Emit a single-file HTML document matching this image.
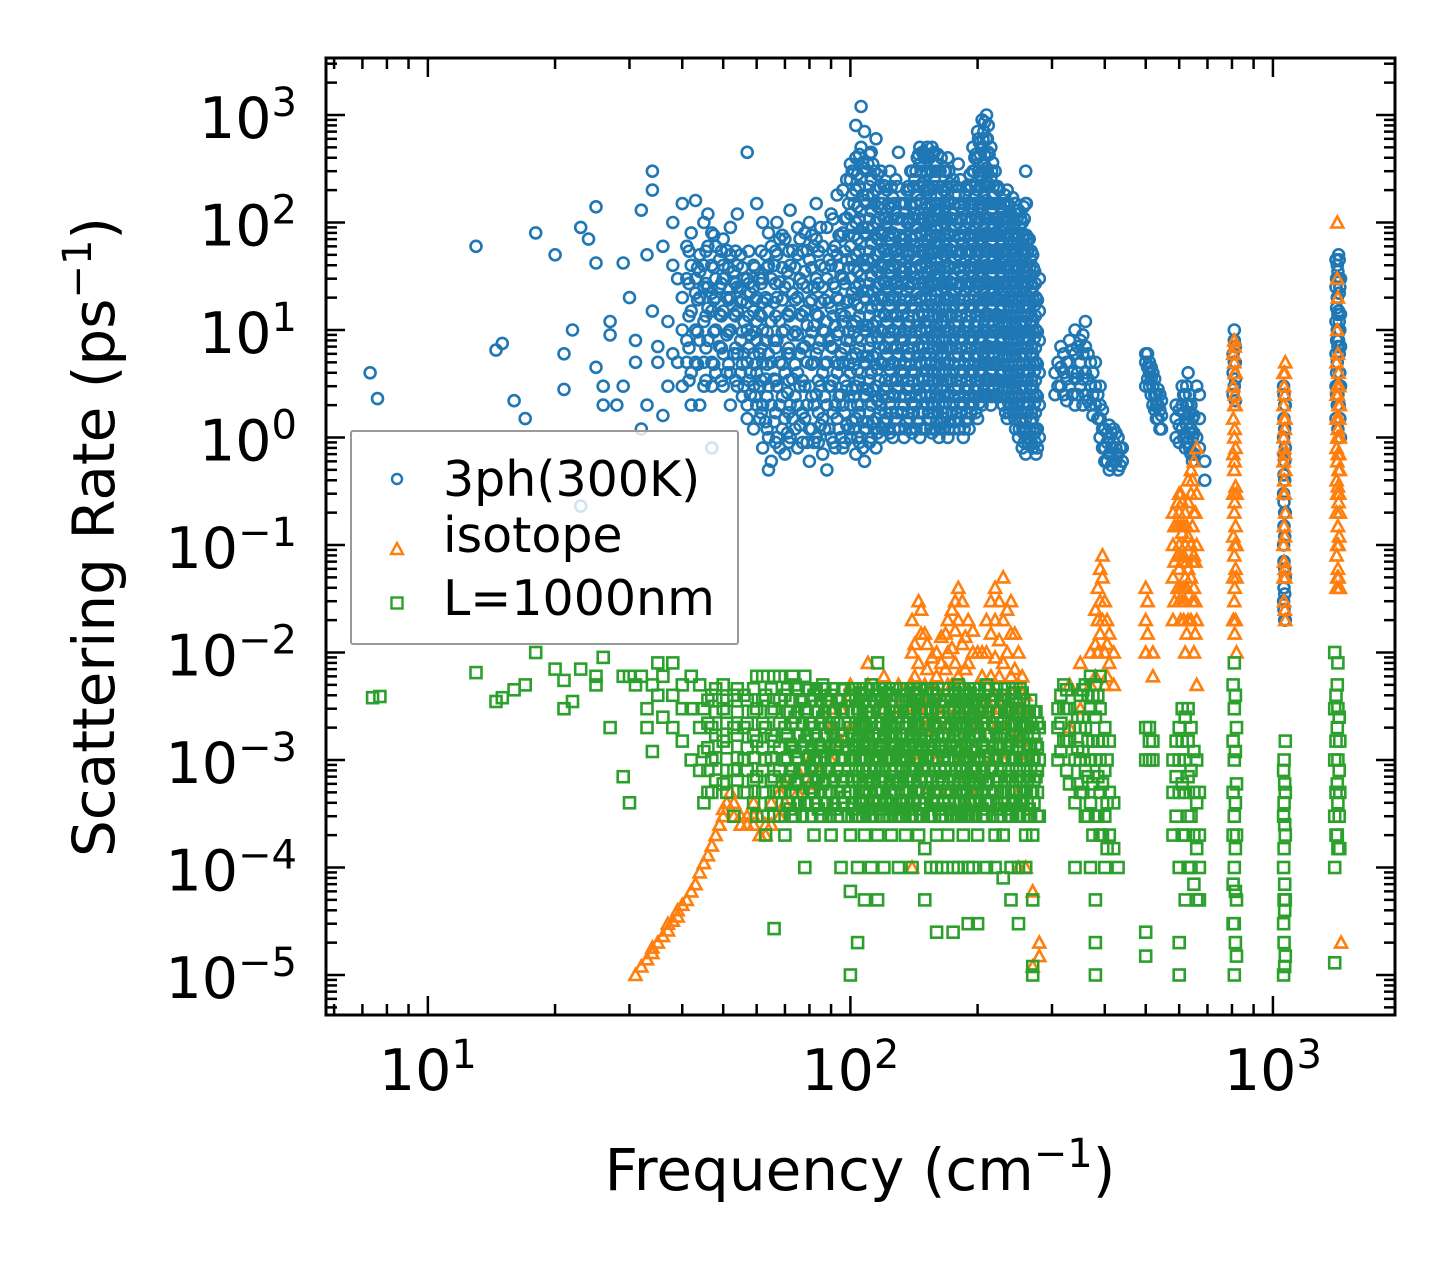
<!DOCTYPE html>
<html><head><meta charset="utf-8"><style>
html,body{margin:0;padding:0;background:#fff;}
svg{display:block;font-family:"DejaVu Sans","Liberation Sans",sans-serif;}
</style></head><body>
<svg id="chart" width="1455" height="1265" viewBox="0 0 1455 1265" xmlns="http://www.w3.org/2000/svg">
<rect width="1455" height="1265" fill="#fff"/>
<defs><clipPath id="plotclip"><rect x="326" y="58" width="1069" height="957"/></clipPath></defs>
<g id="series" clip-path="url(#plotclip)"></g>
<g id="axes"></g>
<g>
<rect x="351" y="431" width="387" height="213" fill="#fff" fill-opacity="0.8" stroke="#999" stroke-width="2" rx="2"/>
<circle cx="397" cy="479" r="5" fill="none" stroke="#1f77b4" stroke-width="2.4"/>
<text x="443" y="496" font-size="49">3ph(300K)</text>
<path d="M397,543 L403,554 L391,554 Z" fill="none" stroke="#ff7f0e" stroke-width="2.4"/>
<text x="443" y="552" font-size="49">isotope</text>
<rect x="391.5" y="597.5" width="11" height="11" fill="none" stroke="#2ca02c" stroke-width="2.4"/>
<text x="443" y="615" font-size="49">L=1000nm</text>
</g>
<text x="860" y="1190" font-size="58" text-anchor="middle">Frequency (cm<tspan font-size="40" dy="-23">−1</tspan><tspan dy="23">)</tspan></text>
<text transform="translate(114,537) rotate(-90)" font-size="58" text-anchor="middle">Scattering Rate (ps<tspan font-size="40" dy="-23">−1</tspan><tspan dy="23">)</tspan></text>
</svg>
<script>
// each row: [frequency, rate, rate, ...]
const data3ph = [
[7.3,4],[7.6,2.3],[13,60],[14.5,6.5],[15,7.5],[16,2.2],[17,1.5],[18,80],[20,50],[21,2.8,6],[22,10],[23,0.23,90],[24,70],[25,4.5,42,140],[26,3,2],[27,12,9],[28,2],[29,3,42],[30,20],[31,5,8],[32,1.2,130],[33,50,2],[34,15,200,300],[35,7,5],[36,1.6,60],[37,12,3],[38,100,40,6],[39,5,30],[40,20,150,10,3],[41,30,8,5,60],[42,80,15,40,4,2],[43,160,30,10,5,22],[44,2,20,50,8,35],[45,40,100,12,5,3,25],[46,120,25,60,8,16],[47,0.8,40,15,5,3,80,22],[48,60,30,10,4,20],[49,45,25,14,7],[50,30,70,15,6,3,40],[51,55,20,9,4],[52,20,50,10,4,2,90],[53,35,14,6,28],[54,40,15,6,3,120,25],[55,50,25,8,4,18],[56,30,12,6,3],[57,450,30,10,5,2,1.5,18],[58,22,9,4,2.5],[59,40,15,6,3,1.2,25],[60,150,20,8,4,2,12],[61,30,14,6,3,1.5],[62,100,30,10,5,2,0.8,18],[63,50,20,8,3.5,1.4],[64,80,40,15,6,3,1,0.5],[65,0.6,2,5,12,30,60],[66,1.4,3.5,8,18,40],[67,1,3,8,20,50,100],[68,0.8,2,5,12,28,70],[70,0.7,1.5,4,10,25,70],[71,1.1,2.6,6,14,35],[72,1,2,6,15,40,130],[73,1.5,3.5,9,22,55],[75,0.8,2,4,9,20,50,90],[76,1.3,3,6,14,30,70],[78,1.5,3,7,15,35,80],[79,0.9,2,5,11,25,55],[80,0.6,1.2,3,8,18,45,100],[82,0.9,2,5,11,25,60],[83,1,2.5,6,14,30,70,150],[85,1.3,3,8,18,40,90],[86,0.7,1.5,4,10,25,60],[88,0.5,2,5,12,30,90],[89,1.2,3,8,18,45],[90,1,3,7,16,40,120],[92,0.8,2,5,11,25,60],[93,1.5,4,9,20,50,180],[95,1,2.5,6,14,32,75],[96,0.8,2,5,12,30,80,200],[98,1.3,3,8,18,45,110,250],
[100,1,2,4,8,15,30,60,120,250,350],[101,1.4,2.8,5.5,11,22,45,90,180,300],[103,0.7,1.5,3,6,12,25,50,100,200,400,800],[104,1,2,4.2,8.5,17,35,70,140,280],[106,1,2,4,8,16,32,64,128,256,500,1200],[107,0.8,1.4,2.9,5.7,11,23,45,90,180,360],[108,0.6,1.2,2.5,5,10,20,40,80,160,320,700],[110,1.4,2.8,5.7,11,23,45,90,180,350],[112,1,2,4,8,16,32,64,128,250,450],[113,1.4,2.8,5.7,11,23,45,90,180,350],[115,0.8,1.5,3,6,12,25,50,100,200,600],[116,1.1,2.2,4.3,8.5,17,35,70,140,280],[118,1,2,5,10,20,40,80,150,300],[120,1.4,2.8,7,14,28,56,110,220],[122,1.5,3,6,12,25,50,100,200],[124,1.1,2.1,4.3,8.5,17,35,70,140,300],[126,1,2.5,5,10,20,40,80,170],[128,1.5,3.5,7,14,28,56,120,250],[130,1.2,3,6,12,25,50,110,450],[132,1.7,4.2,8.5,17,35,70,150],[134,1,2,4,8,16,35,70,150],[136,1.4,2.8,5.7,11,23,50,100,200],[138,1.5,3,6,12,25,50,100,200],[140,1.1,2.1,4.2,8.5,17,35,70,140,300],[142,2,4,8,16,30,60,120,250],[144,1.4,2.8,5.7,11,22,45,90,180,400],[146,1,2.5,5,10,20,40,80,160,350,500],[148,1.7,3.5,7,14,28,56,110,230,450],[150,1.2,3,6,12,25,50,100,200,400],[152,2,4.2,8.5,17,35,70,140,280,500],[154,1.5,3,6,12,25,50,100,200,400],[156,1.1,2.1,4.2,8.5,17,35,70,140,300,500],[158,2,4,8,16,32,64,128,250,450],[160,1.4,2.8,5.7,11,23,45,90,180,350],[162,1,2,4,8,16,32,64,128,300],[164,1.4,2.8,5.7,11,23,45,90,180,400],[166,1.5,3,6,12,25,50,100,200],[168,2.1,4.2,8.5,17,35,70,140,300],[170,1,2.5,5,10,20,40,80,160,400],[172,1.4,3.5,7,14,28,56,110,230],[175,2,4,8,16,30,60,120,250],[177,1.4,2.8,5.7,11,22,45,90,180],[180,1.5,3,6,12,25,50,100,180,350],[182,2.1,4.2,8.5,17,35,70,140,250],[185,1,2,4,8,16,32,64,130],[187,1.4,2.8,5.7,11,23,45,90,180],[190,1.5,3,6,12,25,50,100,200],[192,2.1,4.2,8.5,17,35,70,140,280],[195,2,4,8,16,32,64,130,300,500],[197,2.8,5.7,11,23,45,90,180,400],[200,1.5,3,6,12,25,50,100,200,400,700],[202,2.1,4.2,8.5,17,35,70,140,280,550],[205,2,4,8,16,32,64,130,260,500,900],[207,2.8,5.7,11,23,45,90,180,360,700],[210,2.5,5,10,20,40,80,160,320,600,1000],[212,3.5,7,14,28,56,110,230,450,800],[215,2,4,8,16,32,64,130,260,500],[217,2.8,5.7,11,23,45,90,180,360],[220,2.5,5,10,20,40,80,150,300],[222,3.5,7,14,28,56,110,210],[225,3,6,12,25,50,100,200],[227,4.2,8.5,17,35,70,140],[230,2,4,8,16,32,64,130],[232,2.8,5.7,11,23,45,90,180],[235,1.5,3,6,12,25,50,100,200],[237,2.1,4.2,8.5,17,35,70,140],[240,2,4,8,16,32,64,120],[242,2.8,5.7,11,23,45,90,170],[245,1.5,3,6,12,25,50,100,150],[247,2.1,4.2,8.5,17,35,70,130],[250,1,2,4,8,16,32,64,130],[252,1.4,2.8,5.7,11,23,45,90],[255,0.8,1.5,3,6,12,25,50,100],[257,1.1,2.1,4.2,8.5,17,35,70,140],[260,0.7,1.5,3,6,12,25,50,150,300],[262,1,2.1,4.2,8.5,17,35,70],[265,1,2,4,8,16,32,70],[267,1.4,2.8,5.7,11,23,45],[270,0.8,1.5,3,6,12,25,50],[273,1.1,2.1,4.2,8.5,17,35],[275,0.7,1.2,2.5,5,10,20],[280,1,2,4,8,15,30],
[310,3,5],[320,2.5,4,6],[330,3,5,8],[340,2,3.5,6,10],[350,3,5,8],[360,2.5,4,7,12],[370,2,3,5],[380,2,3,5],[385,1.5,2.5],[390,1,1.5,2,3],[400,0.6,0.8,1.2],[410,0.5,0.7,1,1.3],[420,0.6,0.9,1.2],[430,0.5,0.7,1],[440,0.6,0.8],[500,5,6,3],[510,3,4,5],[520,2,3,4],[530,2,2.5,1.5],[540,1.2,1.8,2.5],[590,1,1.5,2],[610,1.2,2,3],[620,0.8,1.5,2.5],[630,0.9,1.5,2,4],[640,0.7,1.2,2],[660,1,3],[690,0.6,0.4],[810,3,5,8,10],[1060,0.03,0.1,0.3,1,3],[1070,0.02,0.05,0.2,0.8,2],[1420,2,5,10,20,40],[1430,3,8,15,30,50],[1440,1.5,4,10,25]
];
const data3phFill = [
[41.5,3.4,6.8,13.5,27,54],[43.5,4.8,9.6,19,38],[45.5,3.4,6.8,13.5,27,54],[47.5,4.8,9.6,19,38,76],[49.5,3.4,6.8,13.5,27,54],[51.5,4.8,9.6,19,38],[53.5,3.4,6.8,13.5,27,54],[55.5,2.4,4.8,9.6,19,38],[57.5,3.4,6.8,13.5,27,54],[59.5,2.4,4.8,9.6,19,38],[61.5,1.7,3.4,6.8,13.5,27,54],[63.5,1.2,2.4,4.8,9.6,19,38],
[66.5,0.9,1.7,3.4,6.8,13.5,27,54],[69,1.2,2.4,4.8,9.6,19,38,76],[71.5,0.9,1.7,3.4,6.8,13.5,27,54],[74,1.2,2.4,4.8,9.6,19,38],[77,0.9,1.7,3.4,6.8,13.5,27,54],[81,1.2,2.4,4.8,9.6,19,38,76],[84,0.9,1.7,3.4,6.8,13.5,27,54],[87,1.2,2.4,4.8,9.6,19,38],[91,0.9,1.7,3.4,6.8,13.5,27,54,108],[94,1.2,2.4,4.8,9.6,19,38,76],[97,0.9,1.7,3.4,6.8,13.5,27,54,108],[99,1.2,2.4,4.8,9.6,19,38,76,150],
[102,1.2,2.4,4.8,9.6,19,38,76,150,300],[105,0.9,1.7,3.4,6.8,13.5,27,54,108,216,430],[109,1.2,2.4,4.8,9.6,19,38,76,150,300],[111,0.9,1.7,3.4,6.8,13.5,27,54,108,216,430],[114,1.2,2.4,4.8,9.6,19,38,76,150,300],[117,1.7,3.4,6.8,13.5,27,54,108,216],[119,1.2,2.4,4.8,9.6,19,38,76,150],[121,1.7,3.4,6.8,13.5,27,54,108,216],[123,1.2,2.4,4.8,9.6,19,38,76,150],[125,1.7,3.4,6.8,13.5,27,54,108,216],[127,1.2,2.4,4.8,9.6,19,38,76,150],[129,1.7,3.4,6.8,13.5,27,54,108,216],[131,1.2,2.4,4.8,9.6,19,38,76,150],[133,1.7,3.4,6.8,13.5,27,54,108],[135,1.2,2.4,4.8,9.6,19,38,76,150],[137,1.7,3.4,6.8,13.5,27,54,108,216],[139,1.2,2.4,4.8,9.6,19,38,76,150,300],[141,1.7,3.4,6.8,13.5,27,54,108,216],[143,1.2,2.4,4.8,9.6,19,38,76,150,300],[145,1.7,3.4,6.8,13.5,27,54,108,216,430],[147,1.2,2.4,4.8,9.6,19,38,76,150,300],[149,1.7,3.4,6.8,13.5,27,54,108,216,430],[151,1.2,2.4,4.8,9.6,19,38,76,150,300],[153,1.7,3.4,6.8,13.5,27,54,108,216,430],[155,1.2,2.4,4.8,9.6,19,38,76,150,300],[157,1.7,3.4,6.8,13.5,27,54,108,216,430],[159,1.2,2.4,4.8,9.6,19,38,76,150,300],[161,1.7,3.4,6.8,13.5,27,54,108,216,430],[163,1.2,2.4,4.8,9.6,19,38,76,150,300],[165,1.7,3.4,6.8,13.5,27,54,108,216],[167,1.2,2.4,4.8,9.6,19,38,76,150,300],[169,1.7,3.4,6.8,13.5,27,54,108,216],[171,1.2,2.4,4.8,9.6,19,38,76,150,300],[174,1.7,3.4,6.8,13.5,27,54,108,216],[176,1.2,2.4,4.8,9.6,19,38,76,150],[178,1.7,3.4,6.8,13.5,27,54,108,216],[181,1.2,2.4,4.8,9.6,19,38,76,150],[183,1.7,3.4,6.8,13.5,27,54,108],[186,1.2,2.4,4.8,9.6,19,38,76,150],[188,1.7,3.4,6.8,13.5,27,54,108,216],[191,1.2,2.4,4.8,9.6,19,38,76,150],[193,1.7,3.4,6.8,13.5,27,54,108,216],[196,2.4,4.8,9.6,19,38,76,150,300],[198,1.7,3.4,6.8,13.5,27,54,108,216,430],
[201,2.4,4.8,9.6,19,38,76,150,300,600],[203,3.4,6.8,13.5,27,54,108,216,430],[206,2.4,4.8,9.6,19,38,76,150,300,600],[208,3.4,6.8,13.5,27,54,108,216,430,860],[211,2.4,4.8,9.6,19,38,76,150,300,600],[213,3.4,6.8,13.5,27,54,108,216,430],[216,2.4,4.8,9.6,19,38,76,150,300],[218,3.4,6.8,13.5,27,54,108,216],
[221,2.4,4.8,9.6,19,38,76,150],[223,3.4,6.8,13.5,27,54,108,216],[226,2.4,4.8,9.6,19,38,76,150],[228,3.4,6.8,13.5,27,54,108],[231,2.4,4.8,9.6,19,38,76,150],[233,1.7,3.4,6.8,13.5,27,54,108],[236,2.4,4.8,9.6,19,38,76,150],[238,1.7,3.4,6.8,13.5,27,54,108],[241,2.4,4.8,9.6,19,38,76],[243,1.7,3.4,6.8,13.5,27,54,108],[246,1.2,2.4,4.8,9.6,19,38,76,150],[248,1.7,3.4,6.8,13.5,27,54,108],[251,1.2,2.4,4.8,9.6,19,38,76],[253,1.7,3.4,6.8,13.5,27,54,108],[256,1.2,2.4,4.8,9.6,19,38,76],[258,0.9,1.7,3.4,6.8,13.5,27,54,108],[261,1.2,2.4,4.8,9.6,19,38,76,150],[263,0.9,1.7,3.4,6.8,13.5,27,54],[266,1.2,2.4,4.8,9.6,19,38],[268,0.9,1.7,3.4,6.8,13.5,27,54],[271,1.2,2.4,4.8,9.6,19,38],[274,0.9,1.7,3.4,6.8,13.5,27],[277,0.8,1.2,2.4,4.8,9.6,19],
[305,2.5,4],[315,3,4.5,7],[325,2.2,3.5,5],[335,2.5,4,6.5],[345,2.5,4,7],[355,2,3.5,6,9],[365,2.2,3.5,6],[375,1.6,2.5,4],[395,0.8,1.2,1.8],[405,0.6,0.9,1.1],[415,0.55,0.8,1.1],[425,0.6,0.8,1.1],[435,0.55,0.8],
[505,3.5,4.5,6],[515,2.5,3.5,4.5],[525,1.8,2.5,3.5],[535,1.5,2,2.8],[545,1.2,1.6,2.2],[600,0.9,1.3,1.8],[615,1,1.7,2.5],[625,0.9,1.3,2,3],[635,0.8,1.1,1.7,2.5],[645,0.6,1,1.5],[650,0.7,1.1,1.6],[670,0.8,1.5,2.5],
[805,2.5,4,6],[815,2.2,3.5,5,7],[1062,0.025,0.04,0.07,0.15,0.25,0.45,0.7,1.5,2.5],[1066,0.02,0.035,0.06,0.12,0.2,0.4,0.6,1.2,2],[1410,1.5,3,6,12,25,45],[1415,2.5,4,8,16,30],[1425,1.2,2.5,7,14,35],[1435,2,6,12,22,45],[1445,1,3,7,14,30]
];
const dataIsotope = [
[31,1e-5],[32,1.2e-5],[33,1.4e-5],[34,1.6e-5,1.8e-5],[35,2e-5],[36,2.3e-5],[37,2.6e-5,3e-5],[38,3.2e-5],[39,3.5e-5,4e-5],[40,4.5e-5],[41,5e-5],[42,6e-5],[43,7e-5],[44,9e-5],[45,1.1e-4],[46,1.3e-4],[47,1.6e-4],[48,2e-4],[49,2.5e-4],[50,3e-4,3.5e-4],[51,4e-4],[52,5e-4],[53,4e-4,3e-4],[55,3e-4,2.5e-4],[57,2.5e-4,3e-4],[59,2.5e-4,3e-4,4e-4],[61,2e-4,3e-4],[63,2e-4,2.5e-4],[65,2.5e-4,4e-4],[68,3e-4,5e-4],[70,4e-4,6e-4],[75,5e-4,8e-4],[80,6e-4,1e-3],[85,8e-4,1.5e-3],[90,1e-3,2e-3,3e-3],[95,1.5e-3,3e-3],[100,2e-3,4e-3,5e-3],[110,2e-3,5e-3,8e-3],[120,3e-3,6e-3],[130,3e-3,5e-3],[140,1e-4,5e-4,2e-3,5e-3,1e-2,2e-2],[145,1e-3,3e-3,8e-3,3e-2],[150,5e-4,2e-3,5e-3,1.5e-2],[160,1e-3,3e-3,6e-3,1e-2],[170,5e-4,2e-3,5e-3,1e-2,2e-2],[180,1e-3,3e-3,6e-3,2e-2,4e-2],[190,1e-3,3e-3,8e-3,2e-2],[200,5e-4,2e-3,5e-3,1e-2],[215,1e-3,3e-3,6e-3,1.5e-2,3e-2],[230,1e-3,3e-3,8e-3,2e-2,5e-2],[250,1e-4,5e-4,2e-3,5e-3,1e-2],[260,1e-4,1e-3,4e-3],[270,1.2e-5,6e-5],[280,1.5e-5,2e-5],[330,2e-3,5e-3],[350,3e-3,8e-3],[370,5e-3,1e-2],[385,1e-2,2e-2,4e-2],[395,2e-2,5e-2,8e-2],[400,5e-3,1e-2,3e-2],[410,8e-3,1.5e-2],[420,5e-3,1e-2],[500,1e-2,2e-2,4e-2],[520,6e-3,1e-2],[580,2e-2,5e-2,1e-1,2e-1],[600,3e-2,6e-2,1e-1,2e-1,3e-1],[620,1e-2,3e-2,5e-2,1e-1,2e-1],[640,2e-2,5e-2,1e-1,3e-1,5e-1],[660,5e-3,2e-2,1e-1,3e-1,8e-1],[810,3e-2,8e-2,2e-1,5e-1,1,2,5,8],[820,1e-2,5e-2,1e-1,3e-1],[1060,0.05,0.1,0.3,0.6,1,2,4],[1070,0.02,0.05,0.2,0.5,1.5,5],[1420,0.05,0.1,0.3,0.6,1,3,10,30,100],[1440,0.04,0.2,1,2,0.5],[1450,2e-5]
];
const dataIsotopeFill = [
[142,3e-3,6e-3,1.2e-2],[147,2e-3,4e-3,1.5e-2,2.5e-2],[152,3e-3,7e-3,1.2e-2],[156,2.5e-3,5e-3,9e-3],[164,2e-3,4e-3,8e-3,1.4e-2],[168,3e-3,7e-3,1.5e-2],[174,2.5e-3,5e-3,1.1e-2,2.5e-2],[177,3.5e-3,8e-3,1.6e-2,3e-2],[184,2.5e-3,5e-3,1.2e-2,3e-2],[187,3.5e-3,7e-3,1.4e-2],[195,2e-3,4e-3,1e-2,1.6e-2],[205,3e-3,6e-3,1e-2],[210,2.5e-3,5e-3,1e-2,2e-2],[220,2e-3,4e-3,9e-3,2e-2,4e-2],[225,3e-3,6e-3,1.3e-2,3e-2],[235,2e-3,4e-3,1e-2,2.5e-2],[240,2.5e-3,6e-3,1.5e-2,3e-2],[245,3e-3,7e-3,1.5e-2],[255,1.5e-3,3e-3,6e-3],
[380,6e-3,1.2e-2,2.5e-2],[390,1.5e-2,3e-2,6e-2],[405,6e-3,1.2e-2,2e-2],[505,1.5e-2,3e-2],[585,3e-2,7e-2,1.5e-1],[595,4e-2,8e-2,1.5e-1,2.5e-1],[605,2e-2,4e-2,8e-2,1.5e-1,3e-1],[610,3e-2,7e-2,1.3e-1,2.5e-1],[615,2e-2,4e-2,8e-2,1.5e-1],[625,1.5e-2,4e-2,7e-2,1.5e-1],[630,2e-2,6e-2,1.2e-1,2.5e-1,4e-1],[645,3e-2,7e-2,1.5e-1,4e-1],[650,1e-2,4e-2,8e-2,2e-1,6e-1],[655,1.5e-2,3e-2,7e-2,2e-1],
[806,0.02,0.05,0.12,0.3,0.7,1.5,3,6],[812,0.015,0.04,0.1,0.25,0.6,1.2,2.5,4,7],[816,0.02,0.06,0.15,0.35,0.8,2,4],[1063,0.03,0.07,0.15,0.4,0.8,1.5,3],[1067,0.025,0.06,0.12,0.3,0.7,1.2,2.5,4],[1415,0.04,0.08,0.2,0.4,0.8,1.5,2.5,5],[1425,0.06,0.15,0.35,0.7,1.2,2.5,6,20],[1430,0.05,0.1,0.25,0.5,1,2,4],[1435,0.04,0.12,0.3,0.7,1.5,3]
];
const dataBoundary = [
[7.4,3.8e-3],[7.7,3.9e-3],[13,6.5e-3],[14.5,3.5e-3],[15,3.8e-3],[16,4.5e-3],[17,5e-3],[18,1e-2],[20,7e-3],[21,5.5e-3,3e-3],[22,3.5e-3],[23,7e-3],[25,6e-3,5e-3],[26,9e-3],[27,2e-3],[29,7e-4,6e-3],[30,4e-4,6e-3],[31,5e-3],[32,6e-3],[33,3e-3,2e-3],[34,1.2e-3,5e-3],[35,8e-3,4e-3],[36,2.5e-3,6e-3],[38,8e-3,4e-3,2e-3],[40,5e-3,3e-3,1.5e-3],[42,6e-3,3e-3,1e-3],[44,8e-4,2e-3,5e-3],[45,4e-4,1.2e-3,3e-3],[47,5e-4,1e-3,2e-3,4e-3],[50,6e-4,1.5e-3,3e-3,5e-3],[53,3e-4,8e-4,2e-3,4e-3],[56,5e-4,1e-3,2e-3,4e-3],[60,3e-4,7e-4,1.5e-3,3e-3,6e-3],[63,2e-4,5e-4,1e-3,2e-3,4e-3],[66,2.7e-5,3e-4,7e-4,1.5e-3,3e-3,6e-3],[70,2e-4,5e-4,1e-3,2e-3,4e-3],[72,3.5e-4,7e-4,1.4e-3,2.8e-3],[74,3e-4,6e-4,1.2e-3,2.5e-3,5e-3],[76,4e-4,8e-4,1.7e-3,3.5e-3],[78,1e-4,4e-4,8e-4,1.5e-3,3e-3,6e-3],[80,5.5e-4,1.1e-3,2.2e-3,4.5e-3],[82,2e-4,5e-4,1e-3,2e-3,4e-3],[84,3.5e-4,7e-4,1.4e-3,2.8e-3],[86,3e-4,6e-4,1.2e-3,2.5e-3,5e-3],[88,4e-4,8e-4,1.7e-3,3.5e-3],[90,2e-4,5e-4,1e-3,2e-3,4e-3],[92,3.5e-4,7e-4,1.4e-3,2.8e-3],[95,1e-4,3e-4,7e-4,1.5e-3,3e-3],[97,4.5e-4,1e-3,2.2e-3,4.5e-3],[100,1e-5,6e-5,2e-4,5e-4,1e-3,2e-3,4e-3],[102,3.5e-4,7e-4,1.4e-3,2.8e-3],[104,2e-5,1e-4,3e-4,7e-4,1.5e-3,3e-3],[106,4.2e-4,1e-3,2.1e-3,4.2e-3],[108,5e-5,2e-4,5e-4,1e-3,2e-3,4e-3],[110,3.5e-4,7e-4,1.4e-3,2.8e-3],[112,1e-4,3e-4,6e-4,1.2e-3,2.5e-3,5e-3],[114,4.2e-4,8.5e-4,1.7e-3,3.5e-3],[116,5e-5,2e-4,5e-4,1e-3,2e-3,4e-3,8e-3],[118,3.5e-4,7e-4,1.4e-3,2.8e-3],[120,1e-4,3e-4,7e-4,1.5e-3,3e-3],[122,4.2e-4,1e-3,2.1e-3,4.2e-3],[125,2e-4,5e-4,1e-3,2e-3,4e-3],[127,3.5e-4,7e-4,1.4e-3,2.8e-3],[130,1e-4,3e-4,6e-4,1.2e-3,2.5e-3],[132,4.2e-4,8.5e-4,1.7e-3,3.5e-3],[135,2e-4,5e-4,1e-3,2e-3,4e-3],[137,3.5e-4,7e-4,1.4e-3,2.8e-3],[140,1e-4,3e-4,7e-4,1.5e-3,3e-3],[142,4.2e-4,1e-3,2.1e-3,4.2e-3],[145,2e-4,5e-4,1e-3,2e-3,4e-3],[147,3.5e-4,7e-4,1.4e-3,2.8e-3],[150,5e-5,1.5e-4,4e-4,8e-4,1.5e-3,3e-3],[152,5.5e-4,1.1e-3,2.2e-3,4.5e-3],[155,1e-4,3e-4,7e-4,1.5e-3,3e-3],[157,4.2e-4,1e-3,2.1e-3,4.2e-3],[160,2.5e-5,1e-4,2e-4,5e-4,1e-3,2e-3,4e-3],[162,3.5e-4,7e-4,1.4e-3,2.8e-3],[165,1e-4,3e-4,6e-4,1.2e-3,2.5e-3],[167,4.2e-4,8.5e-4,1.7e-3,3.5e-3],[170,2e-4,5e-4,1e-3,2e-3,4e-3],[172,3.5e-4,7e-4,1.4e-3,2.8e-3],[175,2.5e-5,1e-4,3e-4,7e-4,1.5e-3,3e-3],[177,4.2e-4,1e-3,2.1e-3,4.2e-3],[180,1e-4,3e-4,6e-4,1.2e-3,2.5e-3,5e-3],[182,4.2e-4,8.5e-4,1.7e-3,3.5e-3],[185,2e-4,5e-4,1e-3,2e-3,4e-3],[187,3.5e-4,7e-4,1.4e-3,2.8e-3],[190,3e-5,1e-4,3e-4,7e-4,1.5e-3,3e-3],[192,4.2e-4,1e-3,2.1e-3,4.2e-3],[195,1e-4,3e-4,6e-4,1.2e-3,2.5e-3],[197,4.2e-4,8.5e-4,1.7e-3,3.5e-3],[200,3e-5,2e-4,5e-4,1e-3,2e-3,4e-3],[205,3.5e-4,7e-4,1.4e-3,2.8e-3],[210,1e-4,3e-4,6e-4,1.2e-3,2.5e-3,5e-3],[215,4.2e-4,8.5e-4,1.7e-3,3.5e-3],[220,1e-4,2e-4,5e-4,1e-3,2e-3,4e-3],[225,3.5e-4,7e-4,1.4e-3,2.8e-3],[230,8e-5,2e-4,5e-4,1e-3,2e-3,4e-3],[235,3.5e-4,7e-4,1.4e-3,2.8e-3],[240,5e-5,1e-4,3e-4,7e-4,1.5e-3,3e-3],[245,4.2e-4,1e-3,2.1e-3,4.2e-3],[250,3e-5,1e-4,3e-4,7e-4,1.5e-3,3e-3],[255,4.2e-4,1e-3,2.1e-3,4.2e-3],[260,1e-4,2e-4,5e-4,1e-3,2e-3],[265,3.5e-4,7e-4,1.4e-3,2.8e-3],[270,1e-5,1.2e-5,5e-5,2e-4,5e-4,1e-3,2e-3],[275,7e-4,1.4e-3,2.8e-3],[280,3e-4,1e-3,2e-3],
[310,1e-3,2e-3,3e-3],[320,1.5e-3,3e-3,5e-3],[330,6e-4,1.5e-3,3e-3],[340,1e-4,4e-4,1e-3,2e-3],[350,5e-4,1e-3,2e-3,4e-3],[360,3e-4,8e-4,2e-3,5e-3],[370,1e-4,4e-4,1e-3,3e-3,6e-3],[380,1e-5,2e-5,5e-5,3e-4,1e-3,2.5e-3,5e-3],[390,2e-4,5e-4,1e-3,3e-3,6e-3],[400,1e-4,3e-4,8e-4,2e-3],[410,2e-4,5e-4,1.5e-3],[420,1.5e-4,4e-4],[430,1e-4],[500,1.5e-5,2.5e-5,1e-3,2e-3],[520,1e-3,1.5e-3],[580,2e-4,5e-4,1e-3],[600,1e-5,2e-5,1e-4,5e-4,1e-3,2e-3],[620,5e-5,2e-4,5e-4,1e-3,2.5e-3],[640,1e-4,3e-4,8e-4,2e-3],[660,5e-5,1.5e-4,4e-4,1e-3],[810,1e-5,3e-5,1e-4,3e-4,1e-3,3e-3,8e-3],[820,1.5e-5,5e-5,2e-4,6e-4,2e-3],[1060,1e-5,3e-5,1e-4,3e-4,8e-4],[1070,1.5e-5,5e-5,2e-4,5e-4,1.5e-3],[1400,1.3e-5,1e-4,3e-4,1e-3,3e-3,1e-2],[1420,2e-4,6e-4,2e-3,5e-3],[1440,1.5e-4,5e-4,1.5e-3]
];
const dataBoundaryFill = [
[46,5e-4,8e-4,1.3e-3,2.2e-3,3.6e-3],[48,6.5e-4,1.05e-3,1.7e-3,2.8e-3,4.6e-3],[51,5e-4,8e-4,1.3e-3,2.2e-3,3.6e-3],[54,6.5e-4,1.05e-3,1.7e-3,2.8e-3,4.6e-3],[57,5e-4,8e-4,1.3e-3,2.2e-3,3.6e-3],[59,4e-4,6.5e-4,1.05e-3,1.7e-3,2.8e-3,4.6e-3],[62,3e-4,5e-4,8e-4,1.3e-3,2.2e-3,3.6e-3,6e-3],[65,4e-4,6.5e-4,1.05e-3,1.7e-3,2.8e-3,4.6e-3],[68,3e-4,5e-4,8e-4,1.3e-3,2.2e-3,3.6e-3,6e-3],[71,4e-4,6.5e-4,1.05e-3,1.7e-3,2.8e-3,4.6e-3],[73,3e-4,5e-4,8e-4,1.3e-3,2.2e-3,3.6e-3,6e-3],[75,4e-4,6.5e-4,1.05e-3,1.7e-3,2.8e-3,4.6e-3],[77,3e-4,5e-4,8e-4,1.3e-3,2.2e-3,3.6e-3],[79,4e-4,6.5e-4,1.05e-3,1.7e-3,2.8e-3,4.6e-3],[81,3e-4,5e-4,8e-4,1.3e-3,2.2e-3,3.6e-3],[83,4e-4,6.5e-4,1.05e-3,1.7e-3,2.8e-3,4.6e-3],[85,3e-4,5e-4,8e-4,1.3e-3,2.2e-3,3.6e-3],[87,4e-4,6.5e-4,1.05e-3,1.7e-3,2.8e-3,4.6e-3],[89,3e-4,5e-4,8e-4,1.3e-3,2.2e-3,3.6e-3],[91,4e-4,6.5e-4,1.05e-3,1.7e-3,2.8e-3,4.6e-3],[93,3e-4,5e-4,8e-4,1.3e-3,2.2e-3,3.6e-3],[96,4e-4,6.5e-4,1.05e-3,1.7e-3,2.8e-3,4.6e-3],[99,3e-4,5e-4,8e-4,1.3e-3,2.2e-3,3.6e-3],[101,4e-4,6.5e-4,1.05e-3,1.7e-3,2.8e-3,4.6e-3],[103,3e-4,5e-4,8e-4,1.3e-3,2.2e-3,3.6e-3],[105,4e-4,6.5e-4,1.05e-3,1.7e-3,2.8e-3,4.6e-3],[107,3e-4,5e-4,8e-4,1.3e-3,2.2e-3,3.6e-3],[109,4e-4,6.5e-4,1.05e-3,1.7e-3,2.8e-3,4.6e-3],[111,3e-4,5e-4,8e-4,1.3e-3,2.2e-3,3.6e-3],[113,4e-4,6.5e-4,1.05e-3,1.7e-3,2.8e-3,4.6e-3],[115,3e-4,5e-4,8e-4,1.3e-3,2.2e-3,3.6e-3],[117,4e-4,6.5e-4,1.05e-3,1.7e-3,2.8e-3,4.6e-3],[119,3e-4,5e-4,8e-4,1.3e-3,2.2e-3,3.6e-3],[121,4e-4,6.5e-4,1.05e-3,1.7e-3,2.8e-3,4.6e-3],[124,3e-4,5e-4,8e-4,1.3e-3,2.2e-3,3.6e-3],[126,4e-4,6.5e-4,1.05e-3,1.7e-3,2.8e-3,4.6e-3],[128,3e-4,5e-4,8e-4,1.3e-3,2.2e-3,3.6e-3],[131,4e-4,6.5e-4,1.05e-3,1.7e-3,2.8e-3,4.6e-3],[133,3e-4,5e-4,8e-4,1.3e-3,2.2e-3,3.6e-3],[136,4e-4,6.5e-4,1.05e-3,1.7e-3,2.8e-3,4.6e-3],[138,3e-4,5e-4,8e-4,1.3e-3,2.2e-3,3.6e-3],[141,4e-4,6.5e-4,1.05e-3,1.7e-3,2.8e-3,4.6e-3],[143,3e-4,5e-4,8e-4,1.3e-3,2.2e-3,3.6e-3],[146,4e-4,6.5e-4,1.05e-3,1.7e-3,2.8e-3,4.6e-3],[148,3e-4,5e-4,8e-4,1.3e-3,2.2e-3,3.6e-3],[151,4e-4,6.5e-4,1.05e-3,1.7e-3,2.8e-3,4.6e-3],[153,3e-4,5e-4,8e-4,1.3e-3,2.2e-3,3.6e-3],[156,4e-4,6.5e-4,1.05e-3,1.7e-3,2.8e-3,4.6e-3],[158,3e-4,5e-4,8e-4,1.3e-3,2.2e-3,3.6e-3],[161,4e-4,6.5e-4,1.05e-3,1.7e-3,2.8e-3,4.6e-3],[163,3e-4,5e-4,8e-4,1.3e-3,2.2e-3,3.6e-3],[166,4e-4,6.5e-4,1.05e-3,1.7e-3,2.8e-3,4.6e-3],[168,3e-4,5e-4,8e-4,1.3e-3,2.2e-3,3.6e-3],[171,4e-4,6.5e-4,1.05e-3,1.7e-3,2.8e-3,4.6e-3],[173,3e-4,5e-4,8e-4,1.3e-3,2.2e-3,3.6e-3],[176,4e-4,6.5e-4,1.05e-3,1.7e-3,2.8e-3,4.6e-3],[178,3e-4,5e-4,8e-4,1.3e-3,2.2e-3,3.6e-3],[181,4e-4,6.5e-4,1.05e-3,1.7e-3,2.8e-3,4.6e-3],[183,3e-4,5e-4,8e-4,1.3e-3,2.2e-3,3.6e-3],[186,4e-4,6.5e-4,1.05e-3,1.7e-3,2.8e-3,4.6e-3],[188,3e-4,5e-4,8e-4,1.3e-3,2.2e-3,3.6e-3],[191,4e-4,6.5e-4,1.05e-3,1.7e-3,2.8e-3,4.6e-3],[193,3e-4,5e-4,8e-4,1.3e-3,2.2e-3,3.6e-3],[196,4e-4,6.5e-4,1.05e-3,1.7e-3,2.8e-3,4.6e-3],[198,3e-4,5e-4,8e-4,1.3e-3,2.2e-3,3.6e-3],[202,4e-4,6.5e-4,1.05e-3,1.7e-3,2.8e-3,4.6e-3],[207,3e-4,5e-4,8e-4,1.3e-3,2.2e-3,3.6e-3],[212,4e-4,6.5e-4,1.05e-3,1.7e-3,2.8e-3,4.6e-3],[217,3e-4,5e-4,8e-4,1.3e-3,2.2e-3,3.6e-3],[222,4e-4,6.5e-4,1.05e-3,1.7e-3,2.8e-3,4.6e-3],[227,3e-4,5e-4,8e-4,1.3e-3,2.2e-3,3.6e-3],[232,4e-4,6.5e-4,1.05e-3,1.7e-3,2.8e-3,4.6e-3],[237,3e-4,5e-4,8e-4,1.3e-3,2.2e-3,3.6e-3],[242,4e-4,6.5e-4,1.05e-3,1.7e-3,2.8e-3,4.6e-3],[247,3e-4,5e-4,8e-4,1.3e-3,2.2e-3,3.6e-3],[252,4e-4,6.5e-4,1.05e-3,1.7e-3,2.8e-3,4.6e-3],[257,3e-4,5e-4,8e-4,1.3e-3,2.2e-3,3.6e-3],[262,4e-4,6.5e-4,1.05e-3,1.7e-3,2.8e-3],[267,3e-4,5e-4,8e-4,1.3e-3,2.2e-3,3.6e-3],[272,4e-4,6.5e-4,1.05e-3,1.7e-3,2.8e-3],[277,3e-4,5e-4,8e-4,1.3e-3,2.2e-3],
[315,1.2e-3,2.2e-3,4e-3],[325,8e-4,1.5e-3,3e-3,4.5e-3],[345,6e-4,1.3e-3,2.5e-3],[355,5e-4,1.2e-3,2.5e-3,4.5e-3],[365,3e-4,7e-4,1.5e-3,4e-3],[375,2e-4,6e-4,1.5e-3,4e-3],[385,3e-4,7e-4,1.5e-3,4e-3],[395,2e-4,6e-4,1.5e-3],[405,1.5e-4,4e-4,1e-3],[510,1e-3,1.5e-3,2e-3],[590,3e-4,7e-4,1.5e-3],[610,2e-4,6e-4,1.5e-3,3e-3],[630,1e-4,3e-4,7e-4,1.5e-3,3e-3],[650,7e-5,2e-4,5e-4,1.2e-3],[670,5e-5,1e-4,2e-4,5e-4],
[805,3e-5,7e-5,2e-4,5e-4,1.5e-3,5e-3],[815,2e-5,6e-5,1.5e-4,4e-4,1.2e-3,4e-3],[1063,2e-5,5e-5,1.5e-4,4e-4,1e-3],[1066,1.2e-5,4e-5,7e-5,2.5e-4,6e-4],[1410,2e-4,5e-4,1.5e-3,4e-3],[1425,1.5e-4,4e-4,1e-3,3e-3,8e-3],[1435,3e-4,8e-4,2.5e-3]
];
const xMajorTicks = [10, 100, 1000];
const xTickLabels = ["1", "2", "3"];
const yMajorTicks = [1e-5,1e-4,1e-3,1e-2,1e-1,1,10,100,1000];
const yTickLabels = ["−5","−4","−3","−2","−1","0","1","2","3"];

const NS = "http://www.w3.org/2000/svg";
const L = 326, R = 1395, T = 58, B = 1015;
const xMin = Math.log10(5.74), xMax = Math.log10(1945);
const yMin = -5.372, yMax = 3.53;
function xs(v){ return L + (Math.log10(v) - xMin) / (xMax - xMin) * (R - L); }
function ys(v){ return B - (Math.log10(v) - yMin) / (yMax - yMin) * (B - T); }
function mk(tag, attrs, parent){ const e = document.createElementNS(NS, tag); for (const k in attrs) e.setAttribute(k, attrs[k]); parent.appendChild(e); return e; }

const series = document.getElementById("series");
const g1 = mk("g", {fill:"none", stroke:"#1f77b4", "stroke-width":"2.6"}, series);


data3ph.concat(data3phFill).forEach(row => { for (let i = 1; i < row.length; i++) {
  const c = mk("circle", {cx: xs(row[0]).toFixed(1), cy: ys(row[i]).toFixed(1), r: 5.5}, g1);
  
  
}});
const g2 = mk("g", {fill:"none", stroke:"#ff7f0e", "stroke-width":"2.6"}, series);


dataIsotope.concat(dataIsotopeFill).forEach(row => { for (let i = 1; i < row.length; i++) {
  const x = xs(row[0]), y = ys(row[i]);
  const p = mk("path", {d: `M${x.toFixed(1)},${(y-6).toFixed(1)} L${(x+6).toFixed(1)},${(y+5).toFixed(1)} L${(x-6).toFixed(1)},${(y+5).toFixed(1)} Z`}, g2);
  
  
}});
const g3 = mk("g", {fill:"none", stroke:"#2ca02c", "stroke-width":"2.6"}, series);


dataBoundary.concat(dataBoundaryFill).forEach(row => { for (let i = 1; i < row.length; i++) {
  const s = mk("rect", {x: (xs(row[0]) - 5.5).toFixed(1), y: (ys(row[i]) - 5.5).toFixed(1), width: 11, height: 11}, g3);
  
  
}});

const axes = document.getElementById("axes");
const frame = mk("rect", {x:L, y:T, width:R-L, height:B-T, fill:"none", stroke:"#000", "stroke-width":"3"}, axes);


for (let d = 0; d <= 3; d++) for (let m = 1; m <= 9; m++) {
  const v = m * Math.pow(10, d); if (v < 5.74 || v > 1945) continue;
  const x = xs(v), len = m === 1 ? 19 : 11;
  const t1 = mk("line", {x1:x, x2:x, y1:B, y2:B-len, stroke:"#000", "stroke-width":"2.5"}, axes);
  
  
  const t2 = mk("line", {x1:x, x2:x, y1:T, y2:T+len, stroke:"#000", "stroke-width":"2.5"}, axes);
  
  
}
xMajorTicks.forEach((v, i) => {
  const t = mk("text", {x: xs(v), y: 1090, "font-size": 57, "text-anchor": "middle"}, axes);
  
  
  t.innerHTML = `10<tspan font-size="40" dy="-22">${xTickLabels[i]}</tspan>`;
});
for (let d = -6; d <= 3; d++) for (let m = 1; m <= 9; m++) {
  const v = m * Math.pow(10, d); const lv = Math.log10(v); if (lv < yMin || lv > yMax) continue;
  const y = ys(v), len = m === 1 ? 19 : 11;
  const t1 = mk("line", {x1:L, x2:L+len, y1:y, y2:y, stroke:"#000", "stroke-width":"2.5"}, axes);
  
  
  const t2 = mk("line", {x1:R, x2:R-len, y1:y, y2:y, stroke:"#000", "stroke-width":"2.5"}, axes);
  
  
}
yMajorTicks.forEach((v, i) => {
  const t = mk("text", {x: 297, y: ys(v) + 23, "font-size": 57, "text-anchor": "end"}, axes);
  
  
  t.innerHTML = `10<tspan font-size="40" dy="-22">${yTickLabels[i]}</tspan>`;
});
</script>
</body></html>
